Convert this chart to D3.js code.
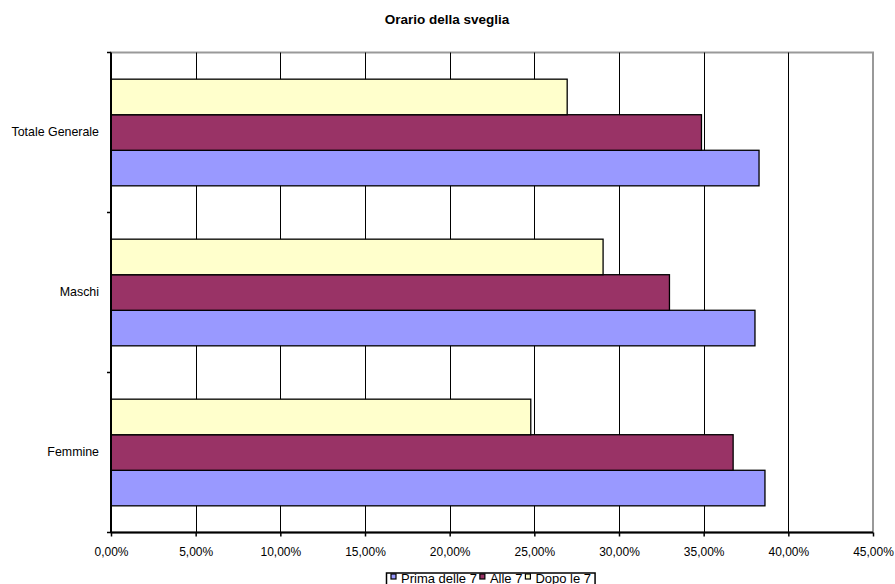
<!DOCTYPE html>
<html>
<head>
<meta charset="utf-8">
<script src="https://cdn.jsdelivr.net/npm/d3@7"></script>
<style>
  body { margin: 0; background: #fff; }
  svg { display: block; font-family: "Liberation Sans", Arial, sans-serif; }
</style>
</head>
<body>
<svg id="chart" width="895" height="584"></svg>
<script>
const title = "Orario della sveglia";
const categories = ["Totale Generale", "Maschi", "Femmine"];
const seriesNames = ["Prima delle 7", "Alle 7", "Dopo le 7"];
const seriesColors = ["#9999FF", "#993366", "#FFFFCC"];
const primaDelle7 = [38.27, 38.03, 38.62];
const alle7 = [34.87, 32.98, 36.74];
const dopoLe7 = [26.94, 29.06, 24.79];
const xTicks = [0, 5, 10, 15, 20, 25, 30, 35, 40, 45];

const seriesValues = [primaDelle7, alle7, dopoLe7];

const svg = d3.select("#chart");
const plotLeft = 111, plotRight = 873, plotTop = 52.5, plotBottom = 532.5;

const x = d3.scaleLinear().domain([0, 45]).range([plotLeft, plotRight]);
const y = d3.scaleBand().domain(categories).range([plotTop, plotBottom]);
// inner band: first series at bottom, gap width 150%
const inner = d3.scaleBand()
  .domain(seriesNames.slice().reverse())
  .range([0, y.bandwidth()])
  .paddingInner(0)
  .paddingOuter(0.75);

// plot area border (gray)
svg.append("rect")
  .attr("x", plotLeft).attr("y", plotTop)
  .attr("width", plotRight - plotLeft).attr("height", plotBottom - plotTop)
  .attr("fill", "#fff").attr("stroke", "#999").attr("stroke-width", 2);

// gridlines
svg.append("g").selectAll("line")
  .data(xTicks.filter(d => d > 0 && d < 45))
  .join("line")
  .attr("x1", d => Math.round(x(d)) + 0.5).attr("x2", d => Math.round(x(d)) + 0.5)
  .attr("y1", plotTop).attr("y2", plotBottom)
  .attr("stroke", "#000").attr("stroke-width", 1);

// bars
const rows = [];
categories.forEach((c, ci) => {
  seriesNames.forEach((s, si) => {
    rows.push({ cat: c, series: s, value: seriesValues[si][ci], color: seriesColors[si] });
  });
});
svg.append("g").selectAll("rect")
  .data(rows)
  .join("rect")
  .attr("x", x(0))
  .attr("y", d => y(d.cat) + inner(d.series))
  .attr("width", d => x(d.value) - x(0))
  .attr("height", inner.bandwidth())
  .attr("fill", d => d.color)
  .attr("stroke", "#000")
  .attr("stroke-width", 1.3);

// x axis
const xAxis = d3.axisBottom(x)
  .tickValues(xTicks)
  .tickSize(4)
  .tickPadding(11)
  .tickFormat(d => d3.format(".2f")(d).replace(".", ",") + "%");
const gx = svg.append("g").attr("transform", `translate(0,${plotBottom})`).call(xAxis);
gx.select(".domain").attr("stroke", "#000").attr("stroke-width", 2).attr("d", `M${plotLeft},0H${plotRight}`);
gx.selectAll(".tick line").attr("stroke", "#000").attr("stroke-width", 1.5);
gx.selectAll(".tick text").attr("font-size", 12).attr("fill", "#000")
  .attr("font-family", "'Liberation Sans', Arial, sans-serif");

// y axis (category labels + boundary ticks)
const yAxis = d3.axisLeft(y).tickSize(0).tickPadding(12);
const gy = svg.append("g").attr("transform", `translate(${plotLeft},0)`).call(yAxis);
gy.select(".domain").attr("stroke", "#000").attr("stroke-width", 2).attr("d", `M0,${plotTop}V${plotBottom}`);
gy.selectAll(".tick text").attr("font-size", 12.4).attr("fill", "#000")
  .attr("font-family", "'Liberation Sans', Arial, sans-serif");
const boundaries = categories.map(c => y(c)).concat([y(categories[categories.length - 1]) + y.bandwidth()]);
svg.append("g").selectAll("line")
  .data(boundaries)
  .join("line")
  .attr("x1", plotLeft - 4).attr("x2", plotLeft)
  .attr("y1", d => d).attr("y2", d => d)
  .attr("stroke", "#000").attr("stroke-width", 1.5);

// title
svg.append("text")
  .attr("x", 447).attr("y", 24)
  .attr("text-anchor", "middle")
  .attr("font-size", 13.5).attr("font-weight", "bold")
  .text(title);

// legend
const lg = svg.append("g");
const box = lg.append("rect")
  .attr("fill", "#fff").attr("stroke", "#000").attr("stroke-width", 1.5);
let cx = 391;
const baseY = 582.5;
seriesNames.forEach((s, i) => {
  lg.append("rect")
    .attr("x", cx).attr("y", baseY - 8.5)
    .attr("width", 5).attr("height", 5)
    .attr("fill", seriesColors[i]).attr("stroke", "#000").attr("stroke-width", 1.2);
  const t = lg.append("text")
    .attr("x", cx + 10).attr("y", baseY)
    .attr("font-size", 13)
    .text(s);
  cx = cx + 10 + t.node().getComputedTextLength() + 3;
});
box.attr("x", 386.5).attr("y", 573).attr("width", cx - 386.5 + 1).attr("height", 20);
</script>
</body>
</html>
